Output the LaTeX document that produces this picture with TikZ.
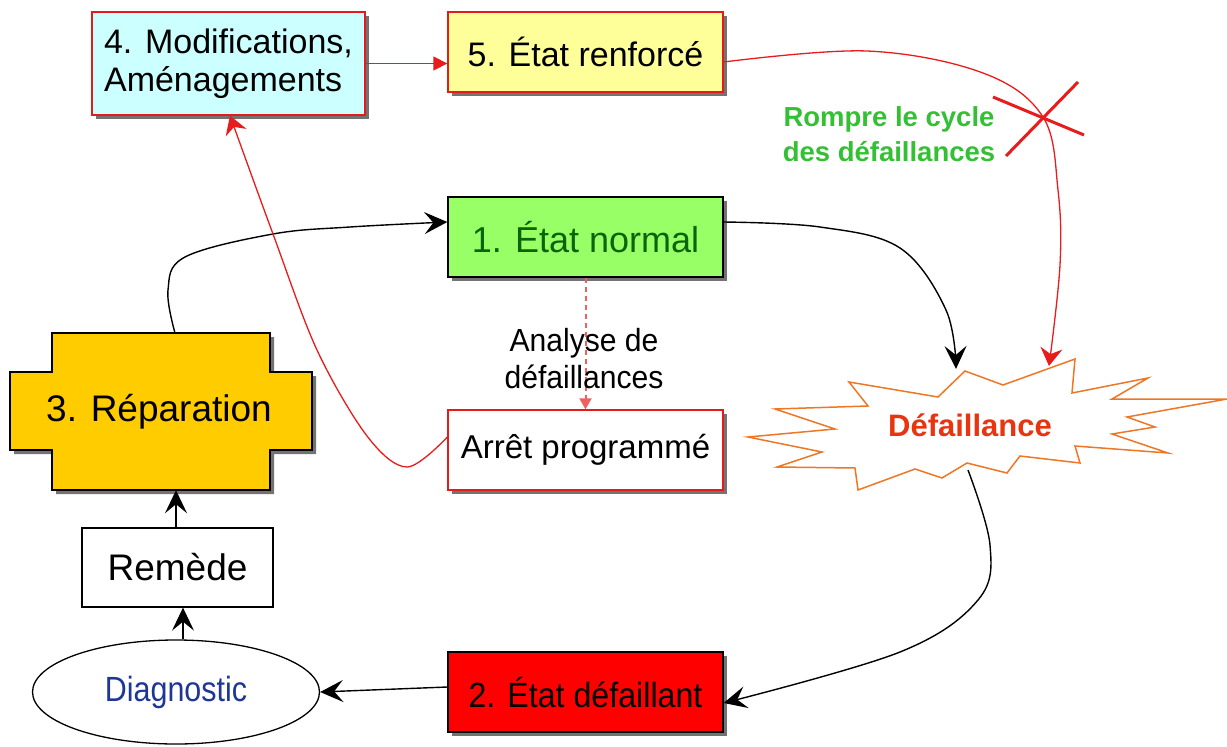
\documentclass[tikz,border=0pt]{standalone}
\usepackage{fontspec}
\setmainfont{Liberation Sans}
\usetikzlibrary{arrows.meta,shadows,shapes.geometric,calc}

\definecolor{boxred}{HTML}{E31B1B}
\definecolor{cyanfill}{HTML}{CCFFFF}
\definecolor{yellowfill}{HTML}{FFFF99}
\definecolor{greenfill}{HTML}{99FF66}
\definecolor{darkgreen}{HTML}{0A640A}
\definecolor{repfill}{HTML}{FFCC00}
\definecolor{diagblue}{HTML}{1E3796}
\definecolor{burstorange}{HTML}{EE7726}
\definecolor{defred}{HTML}{E8340F}
\definecolor{cyclegreen}{HTML}{33C033}
\definecolor{linkred}{HTML}{E81C1C}

\begin{document}
\begin{tikzpicture}[x=1pt,y=-1pt,
  boxshadow/.style={drop shadow={shadow xshift=4pt,shadow yshift=-4pt,fill=black!55,opacity=1}},
  statebox/.style={rectangle, line width=1.3pt, minimum width=275pt, minimum height=80pt,
    inner sep=0pt, align=center, font=\fontsize{34}{38}\selectfont, boxshadow},
  blackarrow/.style={line width=1.4pt, -{Stealth[length=23pt,width=22pt,inset=9pt]}},
  redarrow/.style={line width=1.3pt, linkred, -{Stealth[length=18pt,width=22pt,inset=6pt]}},
  redtri/.style={line width=1.3pt, linkred, -{Triangle[length=14pt,width=14pt]}},
  reddash/.style={line width=2pt, linkred!70, dash pattern=on 5pt off 4pt, -{Triangle[length=11pt,width=12pt]}},
  redcross/.style={line width=3pt, linkred}]

\useasboundingbox (0,0) rectangle (1227,747);

% ---- state boxes ----
\node[statebox, draw=boxred, fill=cyanfill, minimum width=273pt, minimum height=103pt, align=left]
  (n4) at (228.5,63.5) {4. Modifications,\\Aménagements};
\node[statebox, draw=boxred, fill=yellowfill] (n5) at (585.5,52) {5. État renforcé};
\node[statebox, draw=black, fill=greenfill, text=darkgreen, font=\fontsize{36}{40}\selectfont]
  (n1) at (585.5,237) {1. État normal};
\node[statebox, draw=boxred, fill=white, font=\fontsize{33}{38}\selectfont]
  (stop) at (585.5,450) {Arrêt programmé};
\node[statebox, draw=black, fill=red, font=\fontsize{35}{40}\selectfont]
  (n2) at (585.5,692) {\scalebox{0.92}[1]{2. État défaillant}};

% ---- repair (cross-shaped block) ----
\path[draw=black, line width=1.3pt, fill=repfill, boxshadow]
  (52,333) -- (270,333) -- (270,372) -- (312,372) -- (312,450) -- (270,450) -- (270,490)
  -- (52,490) -- (52,450) -- (10,450) -- (10,372) -- (52,372) -- cycle;
\node[rectangle, minimum width=218pt, minimum height=157pt, inner sep=0pt,
  font=\fontsize{37}{40}\selectfont] (rep) at (159,411.5) {3. Réparation};

% ---- remedy and diagnosis ----
\node[rectangle, draw, line width=1.3pt, fill=white, minimum width=191pt, minimum height=79pt,
  font=\fontsize{37}{40}\selectfont] (rem) at (177.5,567.5) {Remède};
\node[ellipse, draw, line width=1.3pt, minimum width=287pt, minimum height=104pt, inner sep=0pt,
  text=diagblue, font=\fontsize{35}{38}\selectfont] (diag) at (176,692) {\scalebox{0.87}[1]{Diagnostic}};

% ---- failure burst ----
\path[draw=burstorange, line width=1.5pt, fill=white]
  (965,371) -- (1003,385) -- (1075,359) -- (1072,393) -- (1148,378) -- (1112,399)
  -- (1227,399) -- (1127,417) -- (1155,427) -- (1112,434) -- (1168,453) -- (1075,446)
  -- (1080,463) -- (1020,456) -- (1007,473) -- (967,463) -- (942,478) -- (915,469)
  -- (858,490) -- (855,468) -- (777,467) -- (822,452) -- (748,437) -- (835,429)
  -- (775,409) -- (868,406) -- (849,382) -- (938,397) -- cycle;
\coordinate (burstin) at (956,369);
\coordinate (burstred) at (1049,366);
\coordinate (burstout) at (968,470);
\node[text=defred, font=\bfseries\fontsize{31}{34}\selectfont] (def) at (970,425) {Défaillance};

% ---- main cycle ----
\draw[blackarrow] plot[smooth, tension=0.6] coordinates
  {(n1.east |- 0,222) (820,227) (900,248) (946,310) (burstin)};
\draw[blackarrow] plot[smooth, tension=0.6] coordinates
  {(burstout) (990,545) (978,600) (900,652) (n2.east |- 0,703)};
\draw[blackarrow] (n2.west |- 0,687) -- (diag.east);
\draw[blackarrow] ([xshift=7pt]diag.north) -- ([xshift=5.5pt]rem.south);
\draw[blackarrow] ([xshift=-1.5pt]rem.north) -- ([xshift=-1.5pt]rem.north |- rep.south);
\draw[blackarrow] plot[smooth, tension=0.6] coordinates
  {(175,333) (168,290) (185,257) (273,234) (350,227) (n1.west |- 0,222)};

% ---- improvement loop ----
\draw[reddash] (n1.south) -- (stop.north);
\node[align=center, font=\fontsize{32}{37}\selectfont] (analyse) at (584,359)
  {\scalebox{0.94}[1]{Analyse de}\\\scalebox{0.94}[1]{défaillances}};

\draw[redarrow] plot[smooth, tension=0.55] coordinates
  {(stop.west |- 0,437) (407,467) (367,436) (317,350) (273,234) ([xshift=1.5pt]n4.south)};
\draw[redtri] (n4.east) -- (n4.east -| n5.west);
\draw[redarrow] plot[smooth, tension=0.6] coordinates
  {(n5.east |- 0,62) (867,51) (983,73) (1043,117) (1058,190) (1060,265) (burstred)};

% ---- break the cycle ----
\draw[redcross] (993,97) -- (1084,135);
\draw[redcross] (1078,82) -- (1006,156);
\node[align=center, text=cyclegreen, font=\bfseries\fontsize{27.5}{35}\selectfont] (rompre) at (889,134) {Rompre le cycle\\des défaillances};

\end{tikzpicture}
\end{document}
